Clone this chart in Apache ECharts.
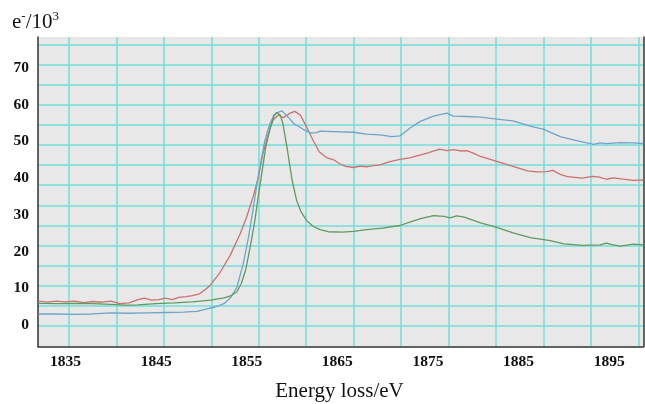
<!DOCTYPE html>
<html>
<head>
<meta charset="utf-8">
<script src="https://cdn.jsdelivr.net/npm/echarts@6/dist/echarts.min.js"></script>
<style>html,body{margin:0;padding:0;background:#fff}#c{width:645px;height:404px}</style>
</head>
<body>
<div id="c"></div>
<script>
// ---- data ----
var xTickLabels = [1835, 1845, 1855, 1865, 1875, 1885, 1895];
var yTickLabels = [0, 10, 20, 30, 40, 50, 60, 70];

var redEnergy = [1832.0,1833.0,1834.0,1835.0,1836.0,1837.0,1838.0,1839.0,1840.0,1841.0,1842.0,1843.0,1843.7,1844.5,1845.3,1846.0,1846.8,1847.5,1848.3,1849.0,1849.8,1850.5,1851.0,1852.0,1853.2,1854.3,1855.0,1855.7,1856.3,1856.8,1857.4,1857.9,1858.5,1859.0,1859.8,1860.3,1860.9,1861.6,1862.3,1863.0,1863.8,1864.6,1865.2,1865.9,1866.8,1867.5,1868.2,1869.0,1869.7,1870.8,1871.9,1873.0,1874.1,1875.0,1876.3,1877.1,1877.8,1878.6,1879.3,1880.0,1880.8,1882.6,1884.4,1886.0,1887.0,1888.1,1888.8,1889.6,1890.4,1892.0,1893.2,1893.9,1894.7,1895.5,1896.3,1897.7,1898.8];
var redCounts = [6.5,6.2,6.5,6.3,6.5,6.1,6.4,6.2,6.5,5.8,6.0,6.9,7.3,6.8,6.9,7.3,6.9,7.5,7.7,8.0,8.5,9.8,10.9,14.1,19.1,25.0,29.5,34.9,40.4,46.8,52.2,55.8,57.2,56.5,57.7,58.2,57.2,54.0,50.4,47.2,45.6,45.0,44.0,43.2,42.9,43.3,43.1,43.4,43.6,44.5,45.1,45.5,46.3,46.9,47.9,47.5,47.8,47.4,47.5,46.8,45.9,44.6,43.2,42.0,41.7,41.8,42.1,41.0,40.4,40.0,40.5,40.3,39.7,40.1,39.8,39.4,39.5];

var blueEnergy = [1832.0,1834.0,1836.0,1838.0,1840.0,1842.0,1844.0,1846.0,1848.0,1849.5,1850.5,1851.5,1852.5,1853.2,1853.9,1854.6,1855.2,1855.7,1856.2,1856.6,1857.0,1857.5,1858.0,1858.5,1858.9,1859.3,1859.8,1860.2,1860.8,1861.3,1862.0,1862.7,1863.1,1864.6,1866.8,1868.2,1869.7,1871.0,1871.9,1873.0,1874.1,1875.6,1877.1,1877.8,1879.3,1880.8,1882.6,1884.4,1886.3,1887.8,1889.6,1891.4,1893.3,1894.0,1894.7,1896.2,1897.7,1898.8];
var blueCounts = [3.0,3.0,2.9,3.0,3.3,3.2,3.3,3.4,3.5,3.7,4.3,4.9,5.8,7.4,10.2,16.5,24.0,31.5,39.5,45.0,50.2,54.5,57.2,58.0,58.3,57.3,56.0,54.8,54.0,53.2,52.3,52.4,52.8,52.7,52.5,52.0,51.8,51.3,51.5,53.6,55.4,56.9,57.7,56.9,56.8,56.6,56.1,55.6,54.2,53.3,51.3,50.2,49.2,49.6,49.4,49.7,49.6,49.4];

var greenEnergy = [1832.0,1834.0,1836.0,1838.0,1840.0,1841.5,1843.0,1845.0,1847.0,1849.0,1851.0,1852.5,1853.2,1853.9,1854.4,1854.9,1855.4,1855.9,1856.3,1856.7,1857.1,1857.6,1858.0,1858.3,1858.7,1859.0,1859.5,1860.0,1860.5,1861.0,1861.6,1862.3,1863.1,1864.0,1865.5,1866.8,1868.2,1870.0,1871.9,1873.0,1874.1,1875.6,1876.8,1877.4,1878.2,1879.0,1880.8,1882.6,1884.4,1886.3,1888.5,1890.0,1892.0,1894.0,1894.7,1895.3,1896.2,1897.7,1898.8];
var greenCounts = [5.9,5.8,5.9,5.8,5.6,5.4,5.5,5.8,6.0,6.3,6.8,7.4,7.9,9.0,11.3,15.2,21.5,28.5,35.5,42.0,48.5,53.8,56.8,57.9,57.2,54.8,47.5,39.5,34.0,30.8,28.5,26.9,26.0,25.4,25.3,25.5,26.0,26.4,27.1,28.0,28.9,29.8,29.6,29.2,29.7,29.4,27.8,26.6,25.1,23.8,23.0,22.1,21.7,21.8,22.3,21.9,21.5,22.0,21.8];

// ---- layout / style ----
var xMin = 1831.96, xMax = 1898.77;
var yMin = -5.86, yMax = 78.45;
// background grid of the original instrument plot (independent of the labels)
var xGridLines = [], yGridLines = [];
for (var i = 0; i <= 12; i++) xGridLines.push(+(1835.386 + 5.236 * i).toFixed(3));
for (var j = 0; j <= 14; j++) yGridLines.push(+(76.46 - 5.481 * j).toFixed(3));

function pairs(xs, ys) { return xs.map(function (x, k) { return [x, ys[k]]; }); }

var serif = '"Liberation Serif", "Times New Roman", serif';
var gridColor = '#72dfdb';

var chart = echarts.init(document.getElementById('c'), null, {renderer: 'canvas'});
chart.setOption({
  animation: false,
  backgroundColor: '#ffffff',
  grid: {left: 38, top: 37, width: 605.3, height: 309.5, show: true, backgroundColor: '#e8e8e8', borderWidth: 0},
  xAxis: {
    type: 'value', min: xMin, max: xMax,
    axisLine: {show: true, onZero: false, lineStyle: {color: '#333', width: 1.5}},
    axisTick: {show: false, customValues: xGridLines},
    splitLine: {show: true, lineStyle: {color: gridColor, width: 1.5}},
    axisLabel: {customValues: xTickLabels, formatter: function (v) { return String(v); }, fontFamily: serif, fontWeight: 'bold', fontSize: 15.5, color: '#111', margin: 7}
  },
  yAxis: [{
    type: 'value', min: yMin, max: yMax,
    axisLine: {show: true, onZero: false, lineStyle: {color: '#333', width: 1.5}},
    axisTick: {show: false, customValues: yGridLines},
    splitLine: {show: true, lineStyle: {color: gridColor, width: 1.5}},
    axisLabel: {customValues: yTickLabels, formatter: function (v) { return String(v); }, fontFamily: serif, fontWeight: 'bold', fontSize: 15.5, color: '#111', margin: 9}
  }, {
    type: 'value', min: yMin, max: yMax, position: 'right',
    axisLine: {show: true, onZero: false, lineStyle: {color: '#333', width: 1.5}},
    axisTick: {show: false}, splitLine: {show: false}, axisLabel: {show: false}
  }],
  graphic: [
    {type: 'text', left: 12, top: 7, style: {
      text: '{b|e}{s|-}{b|/10}{s|3}',
      rich: {
        b: {fontFamily: serif, fontSize: 21, lineHeight: 26, verticalAlign: 'bottom', fill: '#111'},
        s: {fontFamily: serif, fontSize: 13, lineHeight: 15, verticalAlign: 'top', padding: [3, 0, 0, 0], fill: '#111'}
      }
    }},
    {type: 'text', x: 339.5, y: 391, style: {text: 'Energy loss/eV', fontFamily: serif, fontSize: 21, fill: '#111', align: 'center', verticalAlign: 'middle'}}
  ],
  series: [
    {type: 'line', name: 'red', data: pairs(redEnergy, redCounts), showSymbol: false, lineStyle: {color: '#cc7070', width: 1.3}, itemStyle: {color: '#cc7070'}},
    {type: 'line', name: 'blue', data: pairs(blueEnergy, blueCounts), showSymbol: false, lineStyle: {color: '#6ea4c9', width: 1.3}, itemStyle: {color: '#6ea4c9'}},
    {type: 'line', name: 'green', data: pairs(greenEnergy, greenCounts), showSymbol: false, lineStyle: {color: '#5f9a5f', width: 1.3}, itemStyle: {color: '#5f9a5f'}}
  ]
});
</script>
</body>
</html>
